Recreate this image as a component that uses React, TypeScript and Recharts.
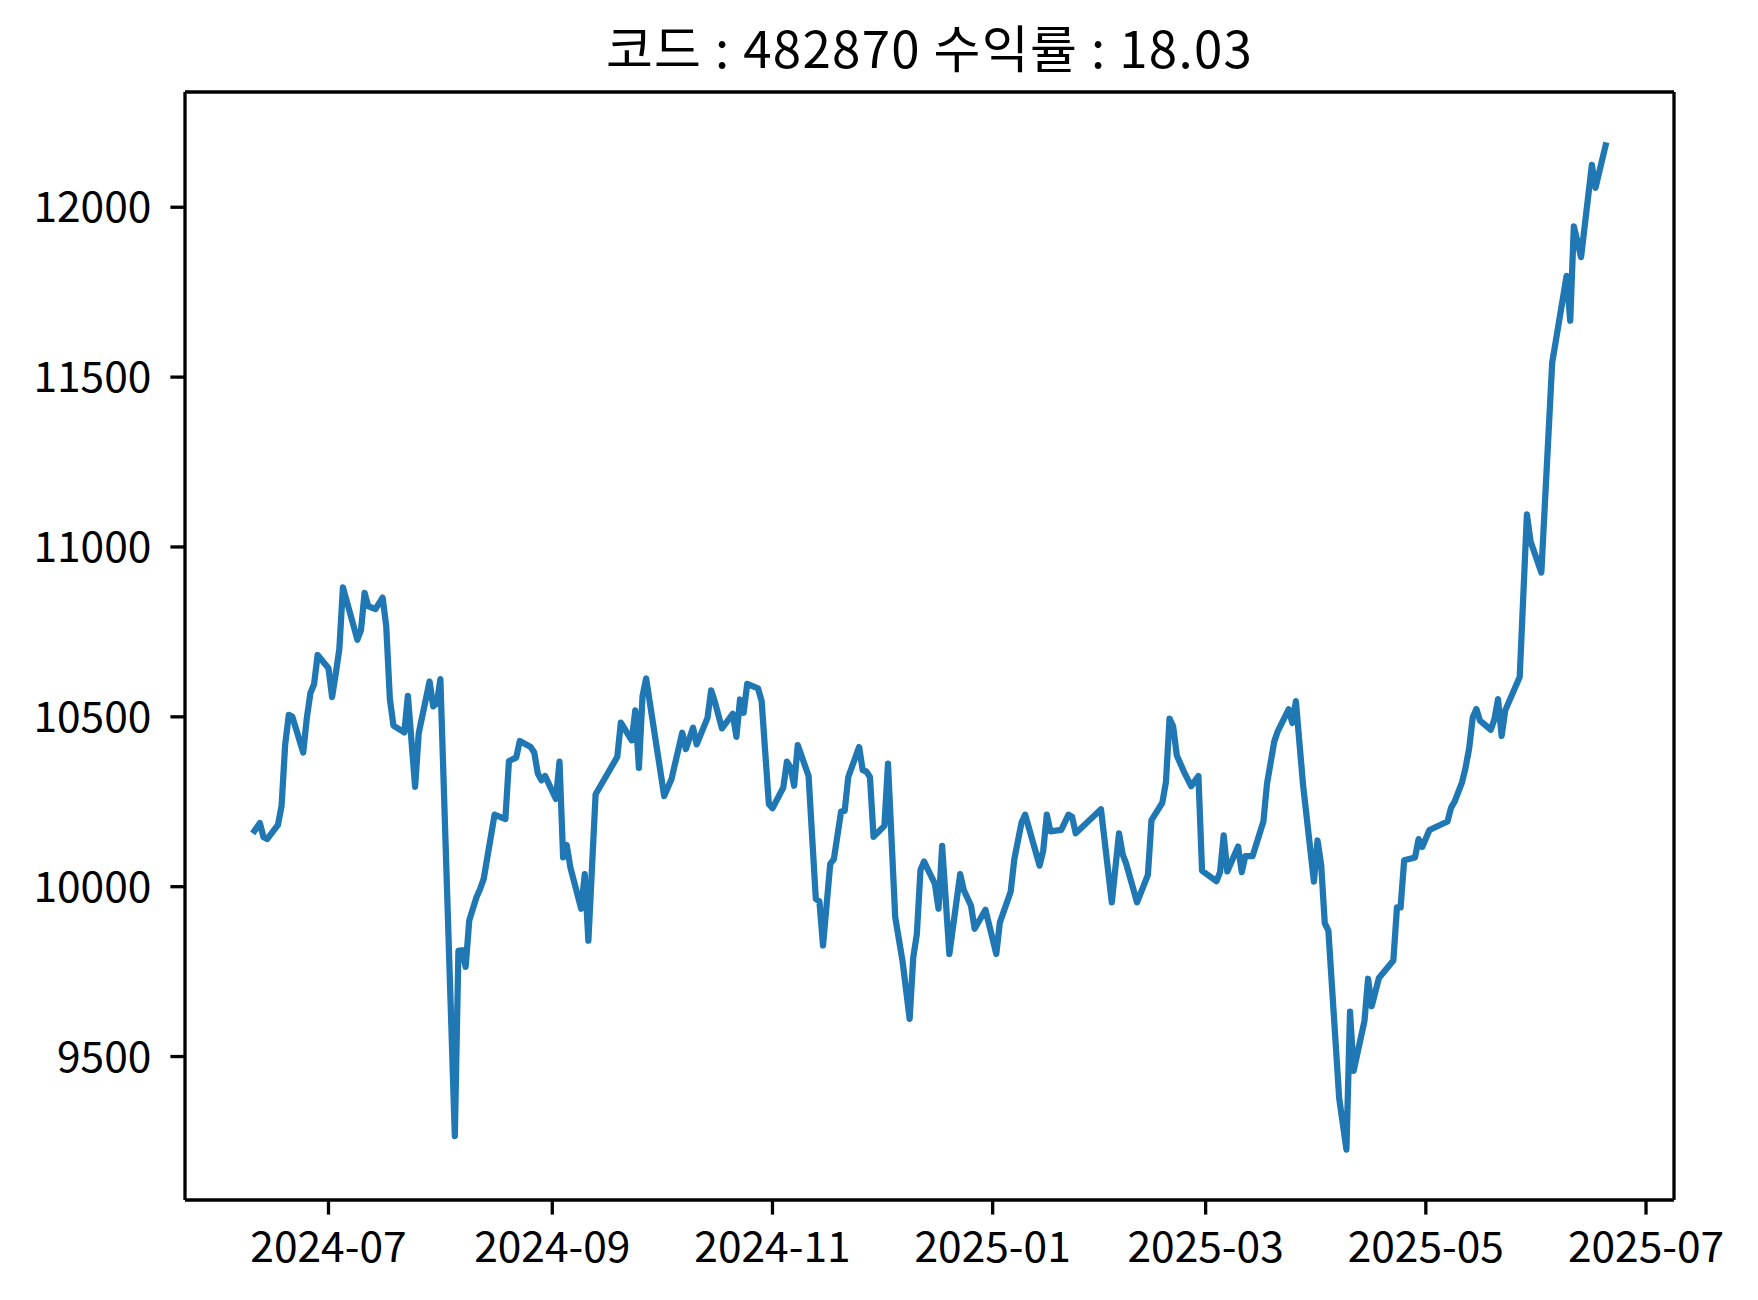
import React from 'react';
import { LineChart, Line, XAxis, YAxis, ReferenceLine } from 'recharts';

const dates = [
  '2024-06-10', '2024-06-12', '2024-06-13', '2024-06-14', '2024-06-17', '2024-06-18', '2024-06-19', '2024-06-20',
  '2024-06-21', '2024-06-24', '2024-06-25', '2024-06-26', '2024-06-27', '2024-06-28', '2024-07-01', '2024-07-02',
  '2024-07-03', '2024-07-04', '2024-07-05', '2024-07-08', '2024-07-09', '2024-07-10', '2024-07-11', '2024-07-12',
  '2024-07-14', '2024-07-16', '2024-07-17', '2024-07-18', '2024-07-19', '2024-07-22', '2024-07-23', '2024-07-25',
  '2024-07-26', '2024-07-29', '2024-07-30', '2024-07-31', '2024-08-01', '2024-08-05', '2024-08-06', '2024-08-07',
  '2024-08-08', '2024-08-09', '2024-08-11', '2024-08-12', '2024-08-13', '2024-08-16', '2024-08-19', '2024-08-20',
  '2024-08-22', '2024-08-23', '2024-08-26', '2024-08-27', '2024-08-28', '2024-08-29', '2024-08-30', '2024-09-02',
  '2024-09-03', '2024-09-04', '2024-09-05', '2024-09-06', '2024-09-09', '2024-09-10', '2024-09-11', '2024-09-13',
  '2024-09-19', '2024-09-20', '2024-09-23', '2024-09-24', '2024-09-25', '2024-09-26', '2024-09-27', '2024-10-02',
  '2024-10-04', '2024-10-07', '2024-10-08', '2024-10-10', '2024-10-11', '2024-10-14', '2024-10-15', '2024-10-16',
  '2024-10-18', '2024-10-21', '2024-10-22', '2024-10-23', '2024-10-24', '2024-10-25', '2024-10-28', '2024-10-29',
  '2024-10-31', '2024-11-01', '2024-11-04', '2024-11-05', '2024-11-06', '2024-11-07', '2024-11-08', '2024-11-11',
  '2024-11-13', '2024-11-14', '2024-11-15', '2024-11-17', '2024-11-18', '2024-11-20', '2024-11-21', '2024-11-22',
  '2024-11-25', '2024-11-26', '2024-11-27', '2024-11-28', '2024-11-29', '2024-12-02', '2024-12-03', '2024-12-05',
  '2024-12-07', '2024-12-09', '2024-12-10', '2024-12-11', '2024-12-12', '2024-12-13', '2024-12-16', '2024-12-17',
  '2024-12-18', '2024-12-20', '2024-12-23', '2024-12-24', '2024-12-26', '2024-12-27', '2024-12-30', '2025-01-02',
  '2025-01-03', '2025-01-06', '2025-01-07', '2025-01-09', '2025-01-10', '2025-01-14', '2025-01-15', '2025-01-16',
  '2025-01-17', '2025-01-20', '2025-01-22', '2025-01-23', '2025-01-24', '2025-01-31', '2025-02-03', '2025-02-05',
  '2025-02-06', '2025-02-07', '2025-02-10', '2025-02-13', '2025-02-14', '2025-02-17', '2025-02-18', '2025-02-19',
  '2025-02-20', '2025-02-21', '2025-02-23', '2025-02-25', '2025-02-27', '2025-02-28', '2025-03-04', '2025-03-05',
  '2025-03-06', '2025-03-07', '2025-03-10', '2025-03-11', '2025-03-12', '2025-03-14', '2025-03-17', '2025-03-18',
  '2025-03-20', '2025-03-21', '2025-03-24', '2025-03-25', '2025-03-26', '2025-03-28', '2025-03-31', '2025-04-01',
  '2025-04-02', '2025-04-03', '2025-04-04', '2025-04-07', '2025-04-09', '2025-04-10', '2025-04-11', '2025-04-14',
  '2025-04-15', '2025-04-16', '2025-04-18', '2025-04-22', '2025-04-23', '2025-04-24', '2025-04-25', '2025-04-28',
  '2025-04-29', '2025-04-30', '2025-05-02', '2025-05-07', '2025-05-08', '2025-05-09', '2025-05-11', '2025-05-12',
  '2025-05-13', '2025-05-14', '2025-05-15', '2025-05-16', '2025-05-19', '2025-05-20', '2025-05-21', '2025-05-22',
  '2025-05-23', '2025-05-27', '2025-05-29', '2025-05-30', '2025-06-02', '2025-06-05', '2025-06-09', '2025-06-10',
  '2025-06-11', '2025-06-13', '2025-06-16', '2025-06-17', '2025-06-20',
];

const prices = [
  10157, 10187, 10146, 10140, 10182, 10238, 10418, 10506,
  10500, 10395, 10497, 10570, 10596, 10682, 10643, 10558,
  10626, 10699, 10881, 10766, 10727, 10755, 10865, 10826,
  10817, 10851, 10766, 10553, 10474, 10454, 10562, 10294,
  10452, 10604, 10531, 10539, 10611, 9266, 9811, 9813,
  9764, 9901, 9969, 9993, 10023, 10212, 10199, 10370,
  10380, 10429, 10411, 10395, 10333, 10313, 10326, 10258,
  10368, 10086, 10123, 10057, 9935, 10037, 9841, 10272,
  10382, 10483, 10431, 10519, 10350, 10561, 10613, 10267,
  10316, 10453, 10405, 10468, 10419, 10497, 10578, 10546,
  10466, 10509, 10441, 10551, 10512, 10597, 10584, 10546,
  10243, 10231, 10292, 10368, 10351, 10297, 10417, 10326,
  9964, 9957, 9827, 10067, 10081, 10221, 10223, 10323,
  10411, 10343, 10339, 10323, 10147, 10179, 10362, 9910,
  9783, 9611, 9792, 9861, 10049, 10074, 10008, 9935,
  10120, 9802, 10037, 9990, 9944, 9876, 9932, 9802,
  9895, 9986, 10081, 10189, 10212, 10062, 10106, 10212,
  10163, 10167, 10212, 10206, 10157, 10228, 9954, 10157,
  10096, 10067, 9954, 10035, 10196, 10247, 10308, 10495,
  10472, 10387, 10338, 10296, 10326, 10047, 10016, 10043,
  10151, 10045, 10118, 10043, 10090, 10090, 10192, 10303,
  10427, 10458, 10522, 10482, 10546, 10298, 10015, 10136,
  10065, 9893, 9871, 9377, 9226, 9632, 9458, 9605,
  9729, 9648, 9731, 9783, 9939, 9939, 10078, 10086,
  10140, 10117, 10167, 10192, 10233, 10251, 10306, 10350,
  10407, 10499, 10523, 10489, 10462, 10493, 10552, 10444,
  10519, 10617, 11096, 11017, 10925, 11542, 11798, 11666,
  11944, 11853, 12125, 12057, 12191,
];

const xTickLabels = ['2024-07', '2024-09', '2024-11', '2025-01', '2025-03', '2025-05', '2025-07'];
const yTicks = [9500, 10000, 10500, 11000, 11500, 12000];

const title = '코드 : 482870 수익률 : 18.03';

const toTime = (d: string) => Date.parse(d + 'T00:00:00Z');

const data = dates.map((d, i) => ({ t: toTime(d), price: prices[i] }));
const xTicks = xTickLabels.map((m) => toTime(m + '-01'));

// matplotlib-style 5% margins
const tMin = Math.min(...data.map((p) => p.t));
const tMax = Math.max(...data.map((p) => p.t));
const tPad = (tMax - tMin) * 0.05;
const xDomain = [tMin - tPad, tMax + tPad];
const vMin = Math.min(...prices);
const vMax = Math.max(...prices);
const vPad = (vMax - vMin) * 0.05;
const yDomain = [vMin - vPad, vMax + vPad];

const fmtMonth = (t: number) => {
  const d = new Date(t);
  return `${d.getUTCFullYear()}-${String(d.getUTCMonth() + 1).padStart(2, '0')}`;
};

const FONT = '"Noto Sans CJK KR", "Noto Sans", sans-serif';
const tickStyle = { fill: '#000', fontSize: 42.5, fontFamily: FONT };
const spine = { stroke: '#000', strokeWidth: 3.3 };

export default function App() {
  return (
    <div style={{ position: 'absolute', left: 0, top: 0, width: 1758, height: 1300, background: '#fff' }}>
      <LineChart width={1758} height={1300} data={data} margin={{ top: 92, right: 84, bottom: 0, left: 0 }}>
        <XAxis
          dataKey="t"
          type="number"
          scale="linear"
          domain={xDomain}
          ticks={xTicks}
          tickFormatter={fmtMonth}
          height={100}
          tickSize={14.6}
          tickMargin={17}
          tick={tickStyle}
          tickLine={spine}
          axisLine={spine}
          interval={0}
        />
        <YAxis
          type="number"
          domain={yDomain}
          ticks={yTicks}
          width={185}
          tickSize={14.6}
          tickMargin={19}
          tick={tickStyle}
          tickLine={spine}
          axisLine={spine}
          interval={0}
        />
        <ReferenceLine y={yDomain[1]} stroke="#000" strokeWidth={3.3} />
        <ReferenceLine x={xDomain[1]} stroke="#000" strokeWidth={3.3} />
        <Line
          dataKey="price"
          type="linear"
          stroke="#1f77b4"
          strokeWidth={6.25}
          strokeLinejoin="round"
          dot={false}
          activeDot={false}
          isAnimationActive={false}
        />
      </LineChart>
      <svg width={1758} height={90} style={{ position: 'absolute', left: 0, top: 0 }}>
        <text x={929.5} y={68} textAnchor="middle" fontSize={51} letterSpacing={1.3} fontFamily={FONT} fill="#000">
          {title}
        </text>
      </svg>
    </div>
  );
}
